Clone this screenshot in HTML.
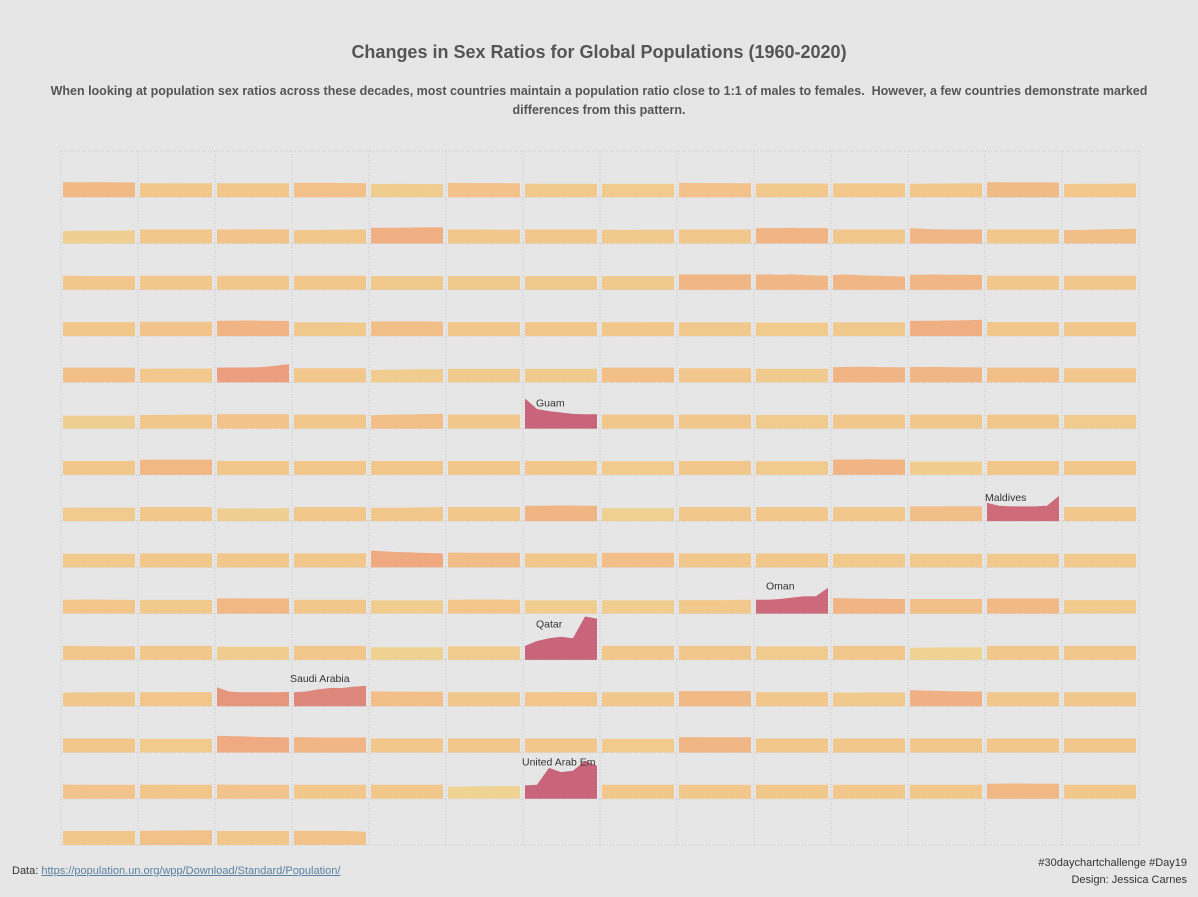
<!DOCTYPE html>
<html><head><meta charset="utf-8">
<style>
html,body{margin:0;padding:0;background:#e6e6e6;}
body{width:1198px;height:897px;position:relative;overflow:hidden;font-family:"Liberation Sans","DejaVu Sans",sans-serif;}
#title{position:absolute;top:42px;left:0;width:1198px;text-align:center;font-size:18px;font-weight:bold;color:#555;}
#sub{position:absolute;top:82px;left:30px;width:1138px;text-align:center;font-size:12.5px;font-weight:bold;color:#555;line-height:19px;}
#src{position:absolute;left:12px;top:865px;font-size:11px;color:#333;}
#src a{color:#5a7fa3;text-decoration:underline;}
#credit{position:absolute;right:11px;top:855px;font-size:11px;color:#333;text-align:right;line-height:17px;}
svg{position:absolute;left:0;top:0;}
</style></head>
<body>
<div id="title">Changes in Sex Ratios for Global Populations (1960-2020)</div>
<div id="sub">When looking at population sex ratios across these decades, most countries maintain a population ratio close to 1:1 of males to females.&nbsp; However, a few countries demonstrate marked differences from this pattern.</div>
<svg id="chart" width="1198" height="897"></svg>
<div id="src">Data: <a>https://population.un.org/wpp/Download/Standard/Population/</a></div>
<div id="credit">#30daychartchallenge #Day19<br>Design: Jessica Carnes</div>
<script>
const years = [1960,1970,1980,1990,2000,2010,2020];
const labels = {76:"Guam", 110:"Maldives", 135:"Oman", 146:"Qatar", 157:"Saudi Arabia", 188:"United Arab Em"};
const series = [
[1.08,1.07,1.07,1.08,1.07,1.06,1.06],[1.0,1.0,1.0,0.99,1.0,1.0,1.0],[1.0,1.0,1.0,1.0,1.0,1.0,1.0],[1.04,1.04,1.03,1.03,1.02,1.01,1.0],[0.95,0.95,0.96,0.95,0.95,0.94,0.94],[1.03,1.02,1.02,1.01,1.01,1.0,1.0],[0.98,0.97,0.97,0.97,0.97,0.97,0.96],[0.97,0.97,0.97,0.97,0.97,0.97,0.97],[1.03,1.02,1.02,1.01,1.01,1.0,1.0],[0.98,0.98,0.98,0.98,0.98,0.98,0.98],[0.99,0.99,0.99,0.99,0.99,0.99,0.99],[0.97,0.97,0.98,0.98,0.99,0.99,1.0],[1.07,1.07,1.06,1.06,1.06,1.06,1.05],[0.95,0.96,0.96,0.97,0.97,0.98,0.99],
[0.88,0.9,0.91,0.92,0.92,0.93,0.93],[1.0,1.0,1.0,1.0,1.0,1.0,1.0],[1.0,1.0,1.01,1.02,1.02,1.02,1.01],[0.95,0.96,0.97,0.98,0.99,1.0,1.0],[1.12,1.13,1.13,1.14,1.15,1.15,1.15],[1.0,1.0,1.0,1.0,0.99,0.99,1.0],[1.0,1.0,1.0,1.0,1.0,1.0,1.0],[0.98,0.98,0.97,0.98,0.98,0.98,0.98],[1.0,1.0,1.0,1.0,1.0,1.0,1.0],[1.1,1.1,1.11,1.12,1.1,1.1,1.1],[1.0,1.0,1.0,1.0,1.0,1.0,1.0],[1.1,1.06,1.02,1.0,1.0,1.0,1.0],[1.0,1.0,1.0,1.0,1.0,1.0,1.0],[0.96,0.97,0.98,1.0,1.02,1.04,1.06],
[1.0,1.0,0.98,0.98,0.98,0.98,0.98],[1.0,1.0,1.0,1.0,1.0,1.0,1.0],[1.0,1.0,1.0,1.0,1.0,1.0,1.0],[1.0,1.0,1.0,1.0,1.0,1.0,1.0],[0.98,0.98,0.98,0.98,0.98,0.98,0.98],[0.98,0.98,0.98,0.98,0.98,0.98,0.98],[0.98,0.98,0.98,0.98,0.98,0.98,0.98],[0.98,0.98,0.98,0.98,0.98,0.98,0.98],[1.1,1.1,1.1,1.1,1.1,1.1,1.1],[1.1,1.1,1.08,1.1,1.06,1.02,1.0],[1.05,1.1,1.05,1.02,1.0,0.97,0.95],[1.08,1.08,1.1,1.08,1.08,1.07,1.06],[1.0,1.0,1.0,1.0,1.0,1.0,1.0],[1.0,1.0,1.0,1.0,1.0,1.0,1.0],
[1.0,1.0,1.0,1.0,1.0,1.0,1.0],[1.02,1.02,1.02,1.02,1.02,1.02,1.02],[1.1,1.1,1.11,1.11,1.1,1.08,1.08],[0.98,0.98,0.98,0.98,0.98,0.97,0.96],[1.05,1.05,1.05,1.05,1.05,1.04,1.03],[1.0,1.0,1.0,1.0,1.0,1.0,1.0],[1.0,1.0,1.0,1.0,1.0,1.0,1.0],[0.98,0.98,0.98,0.98,1.0,1.0,1.0],[0.98,0.98,0.98,0.98,0.98,0.98,0.98],[0.97,0.97,0.97,0.97,0.97,0.97,0.97],[0.98,0.98,0.98,0.98,0.98,0.98,0.98],[1.08,1.09,1.1,1.11,1.12,1.14,1.16],[1.0,1.0,1.0,1.0,1.0,1.0,1.0],[1.0,1.0,1.0,1.0,1.0,1.0,1.0],
[1.05,1.05,1.05,1.05,1.05,1.05,1.05],[0.97,0.98,0.98,0.98,0.99,0.98,0.99],[1.05,1.06,1.06,1.07,1.1,1.2,1.3],[1.0,1.0,1.0,1.0,1.0,1.0,1.0],[0.88,0.9,0.91,0.92,0.93,0.93,0.95],[0.97,0.97,0.97,0.97,0.97,0.97,0.97],[0.97,0.97,0.97,0.97,0.97,0.97,0.97],[1.05,1.05,1.05,1.05,1.05,1.05,1.05],[1.0,1.0,1.0,1.0,1.0,1.0,1.0],[0.97,0.97,0.97,0.97,0.97,0.97,0.97],[1.08,1.1,1.11,1.1,1.09,1.08,1.07],[1.1,1.09,1.1,1.09,1.08,1.07,1.07],[1.05,1.05,1.05,1.05,1.05,1.05,1.05],[1.0,1.0,1.0,1.0,1.0,1.0,1.0],
[0.93,0.93,0.93,0.93,0.93,0.93,0.93],[0.97,0.98,0.98,0.99,1.0,1.0,1.0],[1.02,1.02,1.02,1.02,1.02,1.02,1.02],[1.0,1.0,1.0,1.0,1.0,1.0,1.0],[0.96,0.98,1.0,1.01,1.03,1.04,1.05],[1.0,1.0,1.0,1.0,1.0,1.0,1.0],[2.15,1.4,1.25,1.15,1.05,1.02,1.02],[1.0,1.0,1.0,1.0,1.0,1.0,1.0],[1.0,1.0,1.0,1.0,1.0,1.0,1.0],[0.97,0.97,0.97,0.97,0.97,0.97,0.97],[1.0,1.0,1.0,1.0,1.0,1.0,1.0],[1.0,1.0,1.0,1.0,1.0,1.0,1.0],[1.0,1.0,1.0,1.0,1.0,1.0,1.0],[0.97,0.97,0.97,0.97,0.97,0.97,0.97],
[1.0,1.0,1.0,1.0,1.0,1.0,1.0],[1.08,1.08,1.09,1.09,1.09,1.09,1.09],[1.0,1.0,1.0,1.0,1.0,1.0,1.0],[1.0,1.0,1.0,1.0,1.0,1.0,1.0],[1.0,1.0,1.0,1.0,1.0,1.0,1.0],[1.0,1.0,1.0,1.0,1.0,1.0,1.0],[1.0,1.0,1.0,1.0,0.99,0.99,0.99],[0.97,0.97,0.97,0.97,0.97,0.97,0.97],[1.0,1.0,1.0,1.0,1.0,1.0,1.0],[0.97,0.97,0.97,0.97,0.97,0.97,0.97],[1.1,1.1,1.1,1.11,1.1,1.1,1.1],[0.95,0.95,0.95,0.95,0.95,0.95,0.95],[1.0,1.0,1.0,1.0,1.0,1.0,1.0],[1.0,1.0,1.0,1.0,1.0,1.0,1.0],
[0.95,0.96,0.97,0.97,0.97,0.97,0.97],[1.0,1.0,1.0,1.0,1.0,1.0,1.0],[0.9,0.9,0.91,0.91,0.92,0.92,0.93],[1.0,1.0,1.0,1.0,1.0,1.0,1.0],[0.95,0.95,0.96,0.97,0.98,0.99,1.0],[1.0,1.0,1.0,1.0,1.0,1.0,1.0],[1.1,1.1,1.11,1.12,1.11,1.1,1.1],[0.92,0.92,0.92,0.92,0.92,0.92,0.92],[1.0,1.0,1.0,1.0,1.0,1.0,1.0],[1.0,1.0,1.0,1.0,1.0,1.0,1.0],[1.0,1.0,1.0,1.0,1.0,1.0,1.0],[1.05,1.05,1.05,1.06,1.06,1.06,1.05],[1.3,1.1,1.05,1.05,1.05,1.1,1.8],[1.0,1.0,1.0,1.0,1.0,1.0,1.0],
[0.97,0.97,0.97,0.98,0.98,0.98,0.98],[1.0,1.0,1.0,1.0,1.0,1.0,1.0],[1.0,1.0,1.0,1.0,1.0,1.0,1.0],[1.0,1.0,1.0,1.0,1.0,1.0,1.0],[1.2,1.15,1.1,1.08,1.05,1.02,1.0],[1.06,1.06,1.05,1.05,1.05,1.05,1.05],[1.0,1.0,1.0,1.0,1.0,1.0,1.0],[1.05,1.05,1.05,1.05,1.05,1.04,1.04],[1.0,1.0,1.0,1.0,1.0,1.0,1.0],[1.0,1.0,1.0,1.0,1.0,1.0,1.0],[0.98,0.98,0.98,0.98,0.98,0.98,0.98],[0.98,0.98,0.98,0.98,0.98,0.98,0.98],[0.98,0.98,0.98,0.98,0.98,0.98,0.98],[0.98,0.98,0.98,0.98,0.98,0.98,0.98],
[1.0,1.0,1.01,1.01,1.0,1.0,0.98],[0.98,0.98,0.98,0.98,0.98,0.98,0.98],[1.08,1.09,1.09,1.08,1.08,1.08,1.08],[1.0,1.0,1.0,1.0,1.0,1.0,1.0],[0.94,0.95,0.95,0.95,0.95,0.95,0.95],[1.0,1.0,1.01,1.01,1.01,1.0,1.0],[0.95,0.95,0.95,0.95,0.95,0.95,0.95],[0.95,0.95,0.95,0.95,0.95,0.95,0.95],[0.97,0.97,0.97,0.97,0.97,0.98,0.99],[1.0,1.0,1.05,1.15,1.25,1.25,1.85],[1.12,1.1,1.08,1.07,1.06,1.05,1.05],[1.05,1.05,1.05,1.05,1.05,1.05,1.05],[1.08,1.08,1.08,1.08,1.08,1.08,1.08],[0.97,0.97,0.97,0.97,0.97,0.97,0.97],
[1.0,1.0,0.99,0.99,0.98,0.98,0.98],[1.0,1.0,1.0,1.0,1.0,1.0,1.0],[0.95,0.95,0.95,0.95,0.95,0.95,0.95],[1.0,1.0,1.0,1.0,1.0,1.0,1.0],[0.9,0.9,0.91,0.91,0.91,0.91,0.91],[0.97,0.97,0.97,0.97,0.97,0.97,0.97],[1.0,1.35,1.55,1.65,1.55,3.1,2.95],[1.0,1.0,1.0,1.0,1.0,1.0,1.0],[1.0,1.0,1.0,1.0,1.0,1.0,1.0],[0.97,0.97,0.97,0.97,0.97,0.97,0.97],[1.0,1.0,1.0,1.0,1.0,1.0,1.0],[0.87,0.88,0.89,0.9,0.9,0.9,0.9],[1.0,1.0,1.0,1.0,1.0,1.0,1.0],[1.0,1.0,1.0,1.0,1.0,1.0,1.0],
[0.97,0.98,0.98,0.99,1.0,1.0,1.0],[1.0,1.0,1.0,1.0,1.01,1.01,1.0],[1.35,1.05,1.0,1.0,1.0,1.0,1.02],[1.0,1.05,1.2,1.3,1.3,1.4,1.45],[1.05,1.05,1.04,1.04,1.03,1.03,1.03],[1.0,1.0,1.0,1.0,1.0,1.0,1.0],[1.0,1.0,1.0,1.01,1.01,1.01,1.0],[1.0,1.0,1.0,1.0,1.0,1.0,1.0],[1.08,1.08,1.08,1.08,1.08,1.08,1.08],[1.0,1.0,1.0,1.0,1.0,1.0,1.0],[0.97,0.97,0.97,0.98,0.98,0.98,0.98],[1.15,1.12,1.1,1.08,1.06,1.05,1.05],[1.0,1.0,1.0,1.0,1.0,1.0,1.0],[1.0,1.0,1.0,1.0,1.0,1.0,1.0],
[1.0,1.0,1.0,1.0,1.0,1.0,1.0],[0.97,0.97,0.97,0.97,0.97,0.97,0.97],[1.2,1.17,1.15,1.12,1.1,1.08,1.06],[1.1,1.08,1.07,1.07,1.07,1.07,1.07],[1.0,1.0,1.0,1.0,1.0,1.0,1.0],[1.0,1.0,1.0,1.0,1.0,1.0,1.0],[1.0,1.0,1.0,1.0,1.0,1.0,1.0],[0.97,0.97,0.97,0.97,0.97,0.97,0.97],[1.1,1.1,1.09,1.09,1.08,1.08,1.08],[1.0,1.0,1.0,1.0,1.0,1.0,1.0],[1.0,1.0,1.0,1.0,1.0,1.0,1.0],[1.0,1.0,1.0,1.0,1.0,1.0,1.0],[1.0,1.0,1.0,1.0,1.0,1.0,1.0],[1.0,1.0,1.0,1.0,1.0,1.0,1.0],
[1.02,1.01,1.0,1.0,1.0,1.0,1.0],[1.0,1.01,1.01,1.0,1.0,1.0,1.0],[1.02,1.01,1.0,1.0,1.0,1.0,1.0],[1.0,1.0,1.0,1.0,1.0,1.0,1.0],[1.0,1.0,1.0,1.0,1.0,1.0,1.0],[0.86,0.87,0.88,0.89,0.9,0.9,0.9],[0.95,1.0,2.2,1.9,2.0,2.7,2.35],[1.0,1.0,1.0,1.0,1.0,1.0,1.0],[1.0,1.0,1.0,1.0,1.0,1.0,1.0],[1.0,1.0,1.0,1.0,1.0,1.0,1.0],[1.0,1.0,1.0,1.0,1.0,1.0,1.0],[1.0,1.0,1.0,1.0,1.0,1.0,1.0],[1.08,1.08,1.09,1.09,1.08,1.08,1.08],[1.0,1.0,1.0,1.0,1.0,1.0,0.99],
[1.0,1.0,1.0,1.0,1.0,1.0,1.0],[1.02,1.02,1.03,1.03,1.04,1.04,1.04],[1.0,1.0,1.0,1.0,1.0,1.0,1.0],[1.02,1.02,1.02,1.02,1.01,0.98,0.95]
];
const labelOffsets = {76:[13,24], 110:[0,26], 135:[12,22], 146:[13,14], 157:[-2,22], 188:[-1,13]};

const NS="http://www.w3.org/2000/svg";
const svg=document.getElementById('chart');
const cols=14, rows=15, x0=61, y0=151, cw=77, rh=(845-151)/15;
const pxPerUnit=14;
function xScale(i, year){ return x0+ (i%cols)*cw + 2 + (year-1960)/60*(cw-5); }
function yScale(r, v){ return y0+(r+1)*rh - v*pxPerUnit; }
const stops=[[0.88,[237,213,148]],[1.0,[242,199,140]],[1.1,[241,182,133]],[1.3,[236,158,127]],[1.6,[208,112,121]],[2.0,[201,101,122]]];
function colorFor(m){
  if(m<=stops[0][0]) return 'rgb('+stops[0][1]+')';
  for(let k=1;k<stops.length;k++){ if(m<=stops[k][0]){const a=stops[k-1],b=stops[k];const t=(m-a[0])/(b[0]-a[0]);return 'rgb('+a[1].map((c,j)=>Math.round(c+(b[1][j]-c)*t)).join(',')+')';}}
  return 'rgb('+stops[stops.length-1][1]+')';
}
const g=document.createElementNS(NS,'g');


svg.appendChild(g);
for(let c=0;c<=cols;c++){const l=document.createElementNS(NS,'line');l.setAttribute('x1',x0+c*cw);l.setAttribute('x2',x0+c*cw);l.setAttribute('y1',y0);l.setAttribute('y2',845);l.setAttribute('stroke','#c4c8cc');l.setAttribute('stroke-dasharray','1,2');g.appendChild(l);}
for(let r=0;r<=rows;r++){const l=document.createElementNS(NS,'line');l.setAttribute('x1',x0);l.setAttribute('x2',x0+cols*cw);l.setAttribute('y1',y0+r*rh);l.setAttribute('y2',y0+r*rh);l.setAttribute('stroke','#c4c8cc');l.setAttribute('stroke-dasharray','1,2');g.appendChild(l);}
series.forEach((vals,i)=>{
  const r=Math.floor(i/cols);
  const base=y0+(r+1)*rh;
  let d='M'+xScale(i,years[0])+','+base;
  vals.forEach((v,k)=>{d+=' L'+xScale(i,years[k]).toFixed(1)+','+yScale(r,v).toFixed(1);});
  d+=' L'+xScale(i,years[years.length-1])+','+base+' Z';
  const p=document.createElementNS(NS,'path');
  p.setAttribute('d',d);
  p.setAttribute('fill',colorFor(Math.max(...vals)));
  
  
  svg.appendChild(p);
  if(labels[i]){
    const t=document.createElementNS(NS,'text');
    const o=labelOffsets[i];
    t.setAttribute('x',x0+(i%cols)*cw+o[0]);
    t.setAttribute('y',y0+r*rh+o[1]);
    t.setAttribute('font-size','10.5');
    t.setAttribute('fill','#333');
    t.setAttribute('font-family','Liberation Sans, sans-serif');
    t.textContent=labels[i];
    
    
    svg.appendChild(t);
  }
});
</script>
</body></html>
